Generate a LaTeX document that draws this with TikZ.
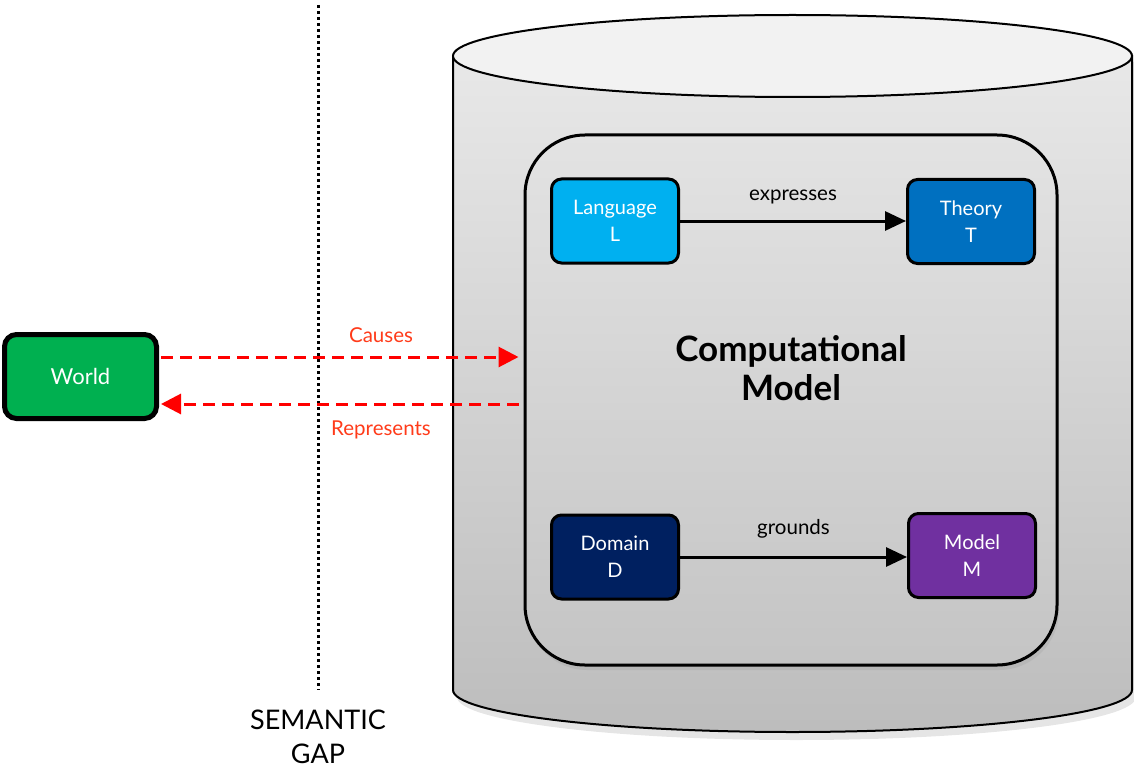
\documentclass[tikz,border=0pt]{standalone}
\usepackage{fontspec}
\setmainfont{Lato}
\usetikzlibrary{arrows.meta,shadows,calc}
\definecolor{cWorld}{HTML}{00B050}
\definecolor{cLang}{HTML}{00B0F0}
\definecolor{cTheory}{HTML}{0070C0}
\definecolor{cDomain}{HTML}{002060}
\definecolor{cModel}{HTML}{7030A0}
\definecolor{cRedText}{HTML}{FF3B1A}
\tikzset{
  conceptbox/.style={draw=black, line width=3pt, rounded corners=10pt, minimum width=127pt, minimum height=84pt,
    text=white, align=center, font=\fontsize{20}{27}\selectfont, inner sep=2pt},
  relarrow/.style={line width=3pt, -{Triangle[length=21pt,width=19pt]}},
  rellabel/.style={font=\fontsize{20.5}{22}\selectfont, text=black},
  redarrow/.style={red, line width=3pt, dash pattern=on 12pt off 7pt, -{Triangle[length=20pt,width=20pt]}},
  redlabel/.style={font=\fontsize{20.5}{22}\selectfont, text=cRedText},
}
\begin{document}
\begin{tikzpicture}[x=1pt,y=-1pt]
\useasboundingbox (0,0) rectangle (1134,770);
% semantic gap
\draw[line width=3pt, dash pattern=on 3pt off 3pt] (318,5) -- (318,690);
\node[font=\fontsize{27}{34}\selectfont, align=center, inner sep=0pt] (gap) at (318,737) {SEMANTIC\\GAP};
% cylinder
\path[fill=black, opacity=0.10] (457,62) -- (457,697) arc[start angle=180,end angle=0,x radius=339.5,y radius=43] -- (1136,62) -- cycle;
\path[top color=gray!18, bottom color=gray!52, draw=black, line width=2pt]
  (453,56) -- (453,690) arc[start angle=180,end angle=0,x radius=339.5,y radius=42] -- (1132,56) -- cycle;
\draw[fill=gray!10, line width=2pt] (792.5,56) ellipse[x radius=339.5, y radius=41];
% inner box
\node[draw=black, line width=3pt, rounded corners=60pt, minimum width=532pt, minimum height=530pt,
  top color=gray!22, bottom color=gray!46, drop shadow={opacity=0.15, shadow xshift=2pt, shadow yshift=-5pt}] (cm) at (791,400) {};
\node[font=\bfseries\fontsize{35}{39}\selectfont, align=center] (cmtitle) at (791,368) {Computational\\Model};
% concept boxes
\node[conceptbox, fill=cLang] (lang) at (615,221) {Language\\L};
\node[conceptbox, fill=cTheory] (theory) at (971,221.5) {Theory\\T};
\node[conceptbox, fill=cDomain] (domain) at (615,557) {Domain\\D};
\node[conceptbox, fill=cModel] (model) at (972,555.5) {Model\\M};
\draw[relarrow] (lang.east) -- (theory.west |- lang.east) node[midway, above=12pt, rellabel] {expresses};
\draw[relarrow] (domain.east) -- (model.west |- domain.east) node[midway, above=14pt, rellabel] {grounds};
% world
\node[draw=black, line width=5pt, rounded corners=12pt, fill=cWorld, minimum width=152pt, minimum height=84pt,
  text=white, font=\fontsize{22}{26}\selectfont] (world) at (80.5,376.5) {World};
% red arrows
\draw[redarrow, shorten <=2pt, shorten >=5pt] ([yshift=19.5pt]world.east) -- ([yshift=43pt]cm.west);
\draw[redarrow, shorten <=5pt, shorten >=2pt] ([yshift=-4pt]cm.west) -- ([yshift=-27.5pt]world.east);
\node[redlabel] (causes) at (381,335) {Causes};
\node[redlabel] (repr) at (381,430) {Represents};
\end{tikzpicture}
\end{document}
